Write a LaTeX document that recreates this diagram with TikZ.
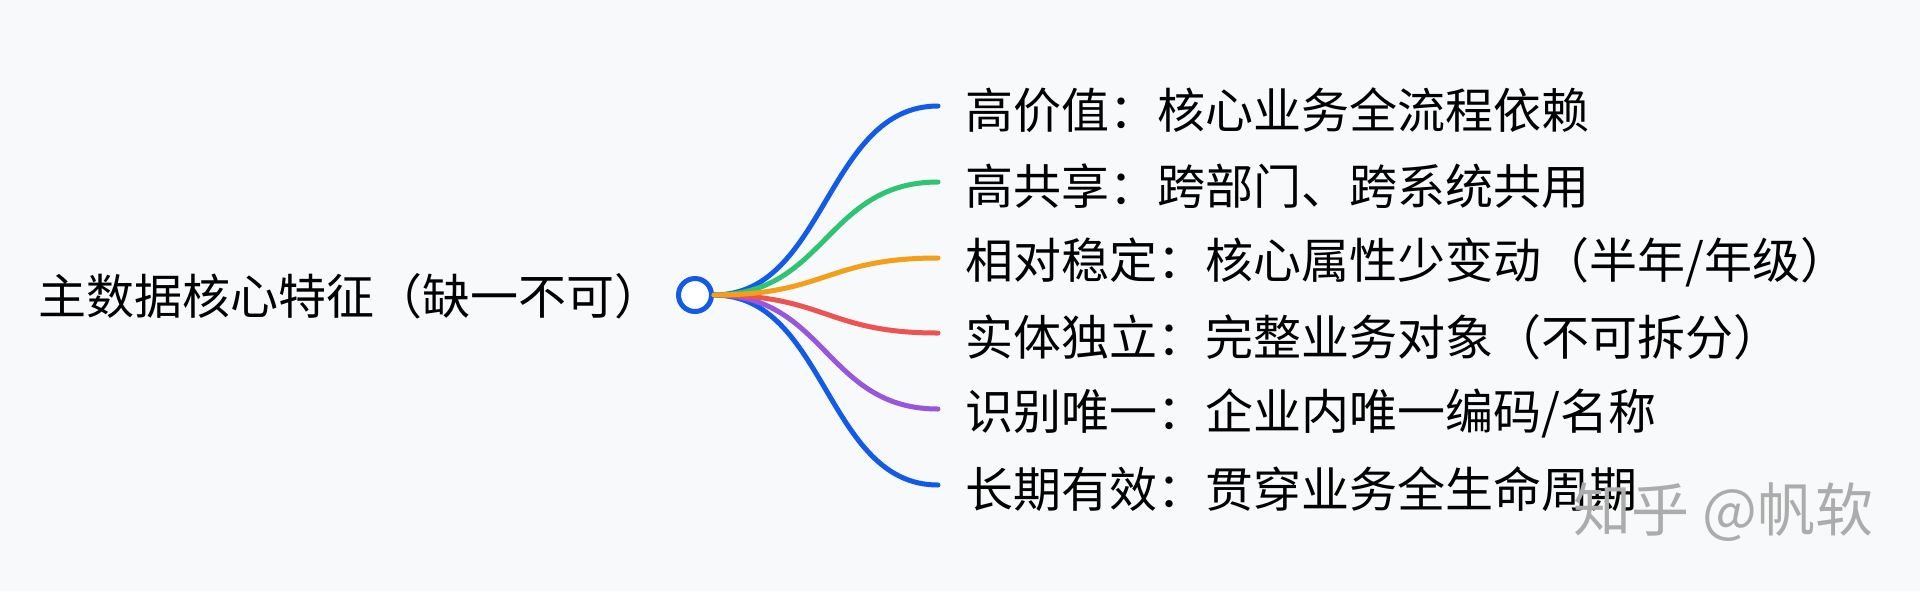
\documentclass[tikz,border=0pt]{standalone}
\usepackage{fontspec}
\setmainfont{Noto Sans CJK SC}
\definecolor{bg}{RGB}{248,249,251}
\definecolor{cblue}{RGB}{18,90,232}
\definecolor{cgreen}{RGB}{46,196,116}
\definecolor{corange}{RGB}{245,158,26}
\definecolor{cred}{RGB}{236,84,84}
\definecolor{cpurple}{RGB}{152,86,218}
\definecolor{wm}{RGB}{172,172,172}
\begin{document}
\begin{tikzpicture}[x=0.5pt,y=-0.5pt,
  lbl/.style={anchor=west,inner sep=0pt,font=\fontsize{24pt}{28pt}\selectfont,text=black},
  link/.style={line width=2.5pt,line cap=round},
  hub/.style={circle,draw=cblue,fill=white,line width=2.5pt,minimum size=16.5pt,inner sep=0pt}]
\fill[bg] (0,0) rectangle (1920,591);
\useasboundingbox (0,0) rectangle (1920,591);
\node[lbl] (root) at (38,296) {主数据核心特征（缺一不可）};
\node[hub] (c) at (695,295) {};
\coordinate (e1) at (938,106);
\coordinate (e2) at (938,182);
\coordinate (e3) at (938,258);
\coordinate (e4) at (938,333);
\coordinate (e5) at (938,409);
\coordinate (e6) at (938,485);
\node[lbl] (n1) at (965,110) {高价值：核心业务全流程依赖};
\node[lbl] (n2) at (965,186) {高共享：跨部门、跨系统共用};
\node[lbl] (n3) at (965,262) {相对稳定：核心属性少变动（半年/年级）};
\node[lbl] (n4) at (965,337) {实体独立：完整业务对象（不可拆分）};
\node[lbl] (n5) at (965,413) {识别唯一：企业内唯一编码/名称};
\node[lbl] (n6) at (965,489) {长期有效：贯穿业务全生命周期};
\draw[link,cblue] (c.east) .. controls +(112,0) and +(-112,0) .. (e6);
\draw[link,cpurple] (c.east) .. controls +(112,0) and +(-112,0) .. (e5);
\draw[link,cred] (c.east) .. controls +(112,0) and +(-112,0) .. (e4);
\draw[link,cblue] (c.east) .. controls +(112,0) and +(-112,0) .. (e1);
\draw[link,cgreen] (c.east) .. controls +(112,0) and +(-112,0) .. (e2);
\draw[link,corange] (c.east) .. controls +(112,0) and +(-112,0) .. (e3);
\node[anchor=west,inner sep=0pt,font=\fontsize{29pt}{34pt}\selectfont,text=wm] (wmk) at (1573,512) {知乎 @帆软};
\end{tikzpicture}
\end{document}
